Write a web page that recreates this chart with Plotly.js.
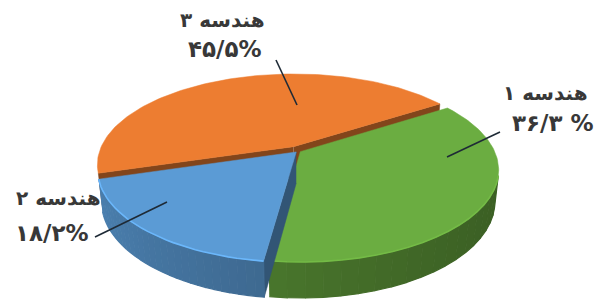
<!DOCTYPE html>
<html>
<head>
<meta charset="utf-8">
<script src="https://cdn.plot.ly/plotly-3.0.1.min.js"></script>
<style>html,body{margin:0;padding:0;background:#fff;}#chart{width:596px;height:303px;}</style>
</head>
<body>
<div id="chart"></div>
<script>
// ---- data ----
const categories = ['هندسه ۱', 'هندسه ۲', 'هندسه ۳'];
const values = [36.3, 18.2, 45.5];
const valueLabels = ['۳۶/۳ %', '۱۸/۲%', '۴۵/۵%'];

// ---- style / geometry ----
const topColors = ['#6BAD41', '#5B9BD5', '#ED7D31'];
const rimLight = [1.08, 1.18, 1.0];
const explode = [0.014, 0.014, 0.055];
const startAngle = 33;           // degrees, slices go clockwise
const CX = 298, CY = 151;        // screen position of pie centre
const S = Math.sin(27.1 * Math.PI / 180), C = Math.cos(27.1 * Math.PI / 180);
const D = 4.553, F = 884, H = 0.183;
const labelPos = [
  {l1: [545, 93], l2: [553, 123], lead: [[500, 132], [447, 157]]},
  {l1: [58, 198], l2: [52, 233], lead: [[95, 237], [167, 202]]},
  {l1: [222, 20], l2: [225, 49], lead: [[276, 60], [297, 105]]}
];

function proj(x, y, z) {
  const yc = y * S + z * C;
  const zc = y * C - z * S + D;
  return [CX + F * x / zc, CY - F * yc / zc];
}
function hex2rgb(h) { return [parseInt(h.substr(1,2),16), parseInt(h.substr(3,2),16), parseInt(h.substr(5,2),16)]; }
function shade(h, k) { const c = hex2rgb(h).map(v => Math.max(0, Math.min(255, Math.round(v * k)))); return 'rgb(' + c.join(',') + ')'; }
const cam = [0, -D * C, D * S];
function facing(p, n) { return (cam[0]-p[0])*n[0] + (cam[1]-p[1])*n[1] + (cam[2]-p[2])*n[2] > 0; }

const total = values.reduce((a, b) => a + b, 0);
const slices = [];
let a = startAngle;
values.forEach((v, i) => {
  const span = 360 * v / total;
  const t1 = (a - span) * Math.PI / 180, t2 = a * Math.PI / 180;
  const m = (t1 + t2) / 2;
  slices.push({i, t1, t2, m, ox: explode[i] * Math.cos(m), oy: explode[i] * Math.sin(m)});
  a -= span;
});

const traces = [];
function poly(pts, color, lw) {
  traces.push({type: 'scatter', mode: 'lines', x: pts.map(p => p[0]), y: pts.map(p => p[1]),
    fill: 'toself', fillcolor: color, line: {color: color, width: lw === undefined ? 1 : lw}, hoverinfo: 'skip', showlegend: false});
}
function polyline(pts, color, w) {
  traces.push({type: 'scatter', mode: 'lines', x: pts.map(p => p[0]), y: pts.map(p => p[1]),
    line: {color: color, width: w}, hoverinfo: 'skip', showlegend: false});
}

function drawSlice(sl) {
  const col = topColors[sl.i];
  const ox = sl.ox, oy = sl.oy;
  const rim = (t, z) => proj(ox + Math.cos(t), oy + Math.sin(t), z);
  const apex = z => proj(ox, oy, z);
  // radial faces
  [[sl.t1, -1], [sl.t2, 1]].forEach(([t, sgn]) => {
    const n = sgn > 0 ? [-Math.sin(t), Math.cos(t), 0] : [Math.sin(t), -Math.cos(t), 0];
    const p = [ox + 0.5 * Math.cos(t), oy + 0.5 * Math.sin(t), -H / 2];
    if (facing(p, n)) poly([apex(0), rim(t, 0), rim(t, -H), apex(-H)], shade(col, 0.55), 0.5);
  });
  // outer wall
  const N = 30;
  const front = [];
  for (let k = 0; k < N; k++) {
    const ta = sl.t1 + (sl.t2 - sl.t1) * k / N, tb = sl.t1 + (sl.t2 - sl.t1) * (k + 1) / N;
    const tm = (ta + tb) / 2;
    const p = [ox + Math.cos(tm), oy + Math.sin(tm), -H / 2];
    if (!facing(p, [Math.cos(tm), Math.sin(tm), 0])) continue;
    const kk = 0.70 - 0.14 * Math.cos(tm) + 0.04 * Math.sin(tm);
    poly([rim(ta, 0), rim(tb, 0), rim(tb, -H), rim(ta, -H)], shade(col, kk), 1.2);
    if (!front.length) front.push(rim(ta, 0));
    front.push(rim(tb, 0));
  }
  // top face
  const pts = [apex(0)];
  const M = 120;
  for (let k = 0; k <= M; k++) pts.push(rim(sl.t1 + (sl.t2 - sl.t1) * k / M, 0));
  pts.push(apex(0));
  poly(pts, col, 0.5);
  if (front.length > 1 && rimLight[sl.i] > 1) polyline(front, shade(col, rimLight[sl.i]), 1.6);
}
// painter order: far slice first
[2, 0, 1].forEach(i => drawSlice(slices[i]));

const font1 = {family: 'DejaVu Sans', size: 20, color: '#383838'};
const font2 = {family: 'DejaVu Sans', size: 23, color: '#383838'};
const annotations = [];
const shapes = [];
const LRO = '\u202D', PDF = '\u202C';
categories.forEach((c, i) => {
  const L = labelPos[i];
  annotations.push({x: L.l1[0], y: L.l1[1], xref: 'x', yref: 'y', text: '<b>' + c + '</b>', showarrow: false, font: font1});
  annotations.push({x: L.l2[0], y: L.l2[1], xref: 'x', yref: 'y', text: '<b>' + LRO + valueLabels[i] + PDF + '</b>', showarrow: false, font: font2});
  shapes.push({type: 'line', xref: 'x', yref: 'y', x0: L.lead[0][0], y0: L.lead[0][1], x1: L.lead[1][0], y1: L.lead[1][1],
    line: {color: '#1e2a36', width: 1.6}});
});

const layout = {
  width: 596, height: 303, margin: {l: 0, r: 0, t: 0, b: 0},
  paper_bgcolor: '#ffffff', plot_bgcolor: '#ffffff',
  xaxis: {range: [0, 596], visible: false, fixedrange: true},
  yaxis: {range: [303, 0], visible: false, fixedrange: true},
  showlegend: false, annotations: annotations, shapes: shapes
};
Plotly.newPlot('chart', traces, layout, {displayModeBar: false, staticPlot: true});
</script>
</body>
</html>
